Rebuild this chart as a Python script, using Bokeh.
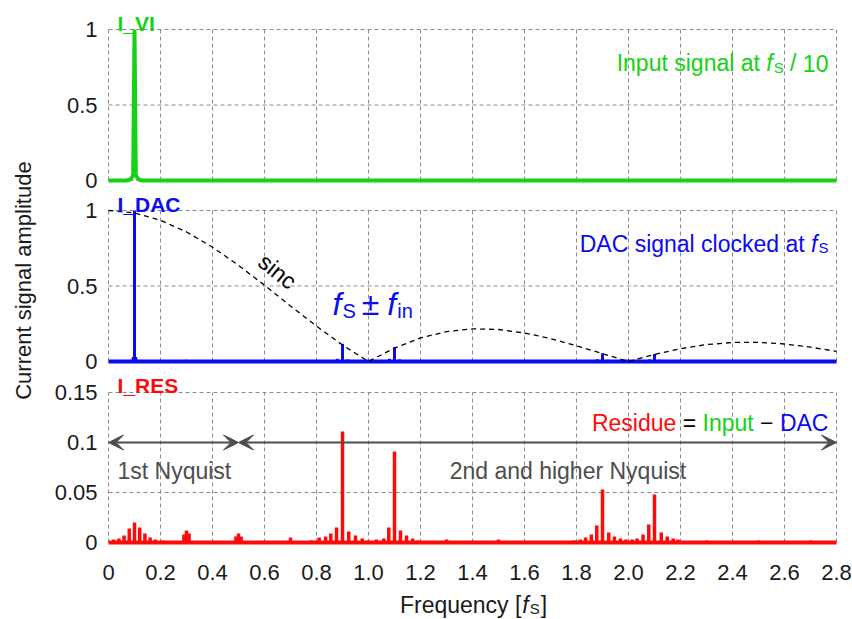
import math
from bokeh.plotting import figure
from bokeh.models import Label, Arrow, VeeHead, Range1d
from bokeh.core.properties import value
from bokeh.embed import file_html
from bokeh.resources import INLINE

FONT = "Liberation Sans"
GREEN = "#14d214"
BLUE = "#0a0af5"
RED = "#ff0a0a"
GREY = "#4d4d4d"
GRID = "#8c8c8c"
INK = "#1a1a1a"

# ---------------- data ----------------
x_ticks = [0, 0.2, 0.4, 0.6, 0.8, 1.0, 1.2, 1.4, 1.6, 1.8, 2.0, 2.2, 2.4, 2.6, 2.8]
x_tick_labels = ["0", "0.2", "0.4", "0.6", "0.8", "1.0", "1.2", "1.4", "1.6",
                 "1.8", "2.0", "2.2", "2.4", "2.6", "2.8"]
amp_ticks = [0, 0.5, 1]
amp_tick_labels = ["0", "0.5", "1"]
res_ticks = [0, 0.05, 0.1, 0.15]
res_tick_labels = ["0", "0.05", "0.1", "0.15"]
freq_span = [0, 2.8]
zero_line = [0, 0]

# input signal (I_VI)
vi_freq = [0.0, 0.07, 0.085, 0.095, 0.1, 0.105, 0.115, 0.13, 2.8]
vi_amp = [0.0, 0.0, 0.008, 0.035, 1.0, 0.035, 0.008, 0.0, 0.0]

# DAC output (I_DAC) spikes
dac_freq = [0.1, 0.095, 0.105, 0.09, 0.11, 0.3, 0.5, 0.7, 0.86, 0.88, 0.9, 0.92,
            1.08, 1.1, 1.12, 1.14, 1.86, 1.88, 1.9, 1.92, 2.08, 2.1, 2.12, 2.14]
dac_amp = [1.0, 0.03, 0.03, 0.012, 0.012, 0.012, 0.01, 0.008, 0.01, 0.018, 0.117, 0.014,
           0.018, 0.095, 0.014, 0.008, 0.008, 0.015, 0.055, 0.012, 0.014, 0.05, 0.012, 0.008]

# sinc envelope
sinc_freq = [0.0, 0.1, 0.2, 0.3, 0.4, 0.5, 0.6, 0.7, 0.8, 0.9, 1.0, 1.1, 1.2, 1.3, 1.4,
             1.5, 1.6, 1.7, 1.8, 1.9, 2.0, 2.1, 2.2, 2.3, 2.4, 2.5, 2.6, 2.7, 2.8]
sinc_amp = [1.0, 0.984, 0.935, 0.858, 0.757, 0.637, 0.505, 0.368, 0.234, 0.109, 0.0,
            0.089, 0.156, 0.198, 0.216, 0.212, 0.189, 0.152, 0.104, 0.052, 0.0,
            0.047, 0.085, 0.112, 0.126, 0.127, 0.116, 0.095, 0.067]

# residue (I_RES) spikes
res_freq = [0.02, 0.04, 0.06, 0.08, 0.1, 0.12, 0.14, 0.16, 0.18, 0.21, 0.29, 0.3, 0.31,
            0.49, 0.5, 0.51, 0.7, 0.78, 0.81, 0.835, 0.855, 0.877, 0.9, 0.924, 0.95,
            0.976, 1.0, 1.03, 1.059, 1.078, 1.1, 1.123, 1.146, 1.17, 1.19, 1.3, 1.5,
            1.79, 1.815, 1.835, 1.857, 1.878, 1.9, 1.924, 1.946, 1.969, 1.99, 2.014,
            2.033, 2.056, 2.078, 2.1, 2.126, 2.149, 2.172, 2.19, 2.3, 2.5, 2.7]
res_amp = [0.003, 0.004, 0.007, 0.014, 0.02, 0.015, 0.009, 0.005, 0.003, 0.002, 0.008,
           0.012, 0.009, 0.006, 0.009, 0.006, 0.005, 0.002, 0.005, 0.006, 0.009, 0.015,
           0.111, 0.011, 0.007, 0.004, 0.002, 0.003, 0.004, 0.015, 0.091, 0.012, 0.007,
           0.004, 0.002, 0.003, 0.003, 0.002, 0.003, 0.005, 0.008, 0.017, 0.053, 0.010,
           0.006, 0.004, 0.003, 0.003, 0.004, 0.008, 0.018, 0.048, 0.010, 0.006, 0.004,
           0.003, 0.002, 0.002, 0.002]

nyquist_bounds = [0, 0.5, 2.8]
nyquist_level = 0.1

# ---------------- layout (pixels) ----------------
W_PX, H_PX = 852, 619
X0_PX, X_SCALE = 108, 260            # x = 0 at 108 px, 260 px per f_S
PANELS = {"amp1": (180, 151), "amp2": (361, 151), "res": (542, 1000)}  # zero line px, px per unit


def yrange(name):
    zero, scale = PANELS[name]
    return Range1d((zero - H_PX) / scale, zero / scale)


p = figure(width=W_PX, height=H_PX,
           x_range=Range1d(-X0_PX / X_SCALE, (W_PX - X0_PX) / X_SCALE),
           y_range=yrange("res"),
           output_backend="svg", toolbar_location=None, title=None,
           x_axis_location=None, y_axis_location=None,
           min_border=0, min_border_left=0, min_border_right=0,
           min_border_top=0, min_border_bottom=0)
p.extra_y_ranges = {"amp1": yrange("amp1"), "amp2": yrange("amp2")}
p.grid.visible = False
p.outline_line_color = None
p.background_fill_color = "white"
p.border_fill_color = "white"

# Arial / Liberation Sans advance widths (per 1000 em)
CW = {" ": 278, "I": 278, "n": 556, "p": 556, "u": 556, "t": 278, "s": 500, "i": 222,
      "g": 556, "a": 556, "l": 222, "/": 278, "1": 556, "0": 556, "D": 722, "A": 667,
      "C": 722, "c": 500, "o": 556, "k": 500, "e": 556, "d": 556, "R": 722, "=": 584,
      "\u2212": 584, "F": 611, "r": 333, "q": 556, "y": 500, "[": 278, "]": 278,
      "f": 278, "S": 667, "\u00b1": 549}


def tw(s, size):
    return sum(CW.get(ch, 556) for ch in s) / 1000.0 * size


def lab(text, x, y, size, color, rng="default", style="normal", align="left",
        baseline="alphabetic", angle=0.0, dx=0.0, dy=0.0):
    p.add_layout(Label(x=x, y=y, text=text, text_font=FONT, y_range_name=rng,
                       text_font_size=f"{size}px", text_color=color,
                       text_font_style=style, text_align=align,
                       text_baseline=baseline, angle=angle,
                       x_offset=dx, y_offset=dy))


def rich(pieces, x, y, rng="default", align="left"):
    # pieces: (text, size, color, style, dy, gap_before)
    total = sum(g + tw(t, s) for t, s, c, st, d, g in pieces)
    off = {"left": 0.0, "center": -total / 2.0, "right": -total}[align]
    for t, s, c, st, d, g in pieces:
        off += g
        lab(t, x, y, s, c, rng=rng, style=st, dx=off, dy=d)
        off += tw(t, s)


def panel_grid(rng, yt, ytl):
    n, m = len(x_ticks), len(yt)
    p.segment(x0=x_ticks, y0=[yt[0]] * n, x1=x_ticks, y1=[yt[-1]] * n,
              y_range_name=rng, line_color=GRID, line_width=1, line_dash="4 3")
    p.segment(x0=[x_ticks[0]] * m, y0=yt, x1=[x_ticks[-1]] * m, y1=yt,
              y_range_name=rng, line_color=GRID, line_width=1, line_dash="4 3")
    p.text(x=[-0.0423] * m, y=yt, text=ytl, y_range_name=rng,
           text_font=value(FONT), text_font_size="22px", text_color=INK,
           text_align="right", text_baseline="middle")


SP = 0.278 * 23

# ---------------- panel 1: input ----------------
panel_grid("amp1", amp_ticks, amp_tick_labels)
p.line(vi_freq, vi_amp, y_range_name="amp1", line_color=GREEN, line_width=4)
lab("I_VI", 0.0346, 1.04, 21, GREEN, rng="amp1", style="bold")
rich([("Input signal at", 23, GREEN, "normal", 0, 0),
      ("f", 23, GREEN, "italic", 0, SP),
      ("S", 15, GREEN, "normal", -4, 1),
      ("/", 23, GREEN, "normal", 0, SP),
      ("10", 23, GREEN, "normal", 0, SP)], 2.769, 0.775, rng="amp1", align="right")

# ---------------- panel 2: DAC ----------------
panel_grid("amp2", amp_ticks, amp_tick_labels)
p.line(freq_span, zero_line, y_range_name="amp2", line_color=BLUE, line_width=4)
p.segment(x0=dac_freq, y0=[0] * len(dac_freq), x1=dac_freq, y1=dac_amp,
          y_range_name="amp2", line_color=BLUE, line_width=3)
p.line(sinc_freq, sinc_amp, y_range_name="amp2", line_color="black",
       line_width=1.3, line_dash="5 4")
lab("I_DAC", 0.0346, 1.04, 21, BLUE, rng="amp2", style="bold")
rich([("DAC signal clocked at", 23, BLUE, "normal", 0, 0),
      ("f", 23, BLUE, "italic", 0, SP),
      ("S", 15, BLUE, "normal", -4, 1)], 2.769, 0.781, rng="amp2", align="right")
lab("sinc", 0.65, 0.596, 23, "black", rng="amp2", align="center",
    baseline="middle", angle=-0.68)
rich([("f", 32, BLUE, "italic", 0, 0),
      ("S", 20, BLUE, "normal", -7, 1),
      ("\u00b1", 32, BLUE, "normal", 0, 6),
      ("f", 32, BLUE, "italic", 0, 8),
      ("in", 20, BLUE, "normal", -7, 1)], 0.8615, 0.384, rng="amp2")
lab("Current signal amplitude", -0.327, 0.536, 22, INK, rng="amp2",
    align="center", baseline="middle", angle=math.pi / 2)

# ---------------- panel 3: residue ----------------
panel_grid("default", res_ticks, res_tick_labels)
p.line(freq_span, zero_line, line_color=RED, line_width=4)
p.segment(x0=res_freq, y0=[0] * len(res_freq), x1=res_freq, y1=res_amp,
          line_color=RED, line_width=3.5)
for xs, xe in ((nyquist_bounds[0], nyquist_bounds[1]), (nyquist_bounds[1], nyquist_bounds[2])):
    p.add_layout(Arrow(x_start=xs, y_start=nyquist_level, x_end=xe, y_end=nyquist_level,
                       line_color=GREY, line_width=2,
                       start=VeeHead(size=15, fill_color=GREY, line_color=GREY),
                       end=VeeHead(size=15, fill_color=GREY, line_color=GREY)))
lab("I_RES", 0.0346, 0.157, 21, RED, style="bold")
lab("1st Nyquist", 0.0346, 0.072, 23, GREY)
lab("2nd and higher Nyquist", 1.767, 0.072, 23, GREY, align="center")
rich([("Residue", 23, RED, "normal", 0, 0),
      ("=", 23, "black", "normal", 0, SP),
      ("Input", 23, GREEN, "normal", 0, SP),
      ("\u2212", 23, "black", "normal", 0, SP),
      ("DAC", 23, BLUE, "normal", 0, SP)], 2.769, 0.12, align="right")

# x tick labels and axis title
p.text(x=x_ticks, y=[-0.030] * len(x_ticks), text=x_tick_labels,
       text_font=value(FONT), text_font_size="22px", text_color=INK,
       text_align="center", text_baseline="alphabetic")
rich([("Frequency [", 23, INK, "normal", 0, 0),
      ("f", 23, INK, "italic", 0, 1),
      ("S", 15, INK, "normal", -4, 1),
      ("]", 23, INK, "normal", 0, 1)], 1.404, -0.062, align="center")

open("out.html", "w").write(file_html(p, INLINE))
